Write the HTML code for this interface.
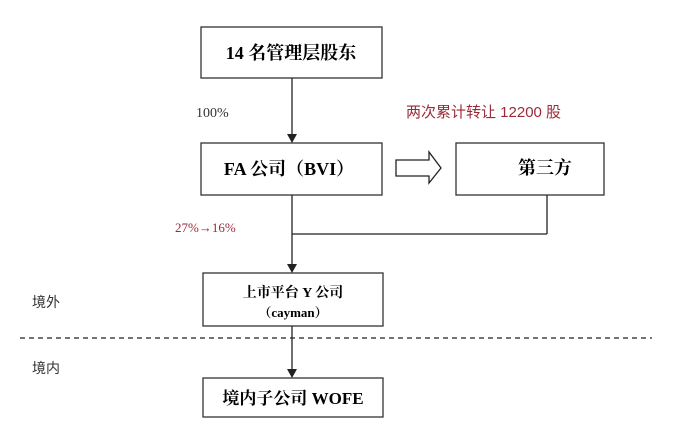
<!DOCTYPE html>
<html><head><meta charset="utf-8"><style>
body{margin:0;background:#fff;}
svg text{font-family:"Liberation Serif","Noto Serif CJK SC",serif;}
</style></head><body>
<svg width="690" height="443" viewBox="0 0 690 443" xmlns="http://www.w3.org/2000/svg">
<defs><marker id="a" markerWidth="8" markerHeight="8" refX="4" refY="7" orient="auto" markerUnits="userSpaceOnUse">
<path d="M0,0 L8,0 L4,8 z" fill="#222" transform="rotate(-90 4 4)"/></marker></defs>
<g stroke="#333" stroke-width="1.3" fill="#fff">
<rect x="201" y="27" width="181" height="51"/>
<rect x="201" y="143" width="181" height="52"/>
<rect x="456" y="143" width="148" height="52"/>
<rect x="203" y="273" width="180" height="53"/>
<rect x="203" y="378" width="180" height="39"/>
</g>
<g stroke="#222" stroke-width="1.3" fill="none">
<line x1="292" y1="78" x2="292" y2="135"/>
<line x1="292" y1="195" x2="292" y2="265"/>
<line x1="547" y1="195" x2="547" y2="234"/>
<line x1="547" y1="234" x2="292" y2="234"/>
<line x1="292" y1="326" x2="292" y2="370"/>
<path d="M396,160 L429,160 L429,152 L441,168 L429,183 L429,176 L396,176 Z"/>
<line x1="20" y1="338" x2="652" y2="338" stroke-dasharray="5,4"/>
</g>
<g fill="#222">
<path d="M287,134 L297,134 L292,143 Z"/>
<path d="M287,264 L297,264 L292,273 Z"/>
<path d="M287,369 L297,369 L292,378 Z"/>
</g>
<text x="291" y="59" font-size="18" font-weight="bold" text-anchor="middle">14 名管理层股东</text>
<text x="289" y="175" font-size="18" font-weight="bold" text-anchor="middle">FA 公司（BVI）</text>
<text x="545" y="174" font-size="18" font-weight="bold" text-anchor="middle">第三方</text>
<text x="293" y="297" font-size="14" font-weight="bold" text-anchor="middle">上市平台 Y 公司</text>
<text x="293" y="317" font-size="13" font-weight="bold" text-anchor="middle">（cayman）</text>
<text x="293" y="404" font-size="17" font-weight="bold" text-anchor="middle">境内子公司 WOFE</text>
<text x="196" y="117" font-size="14" fill="#333" font-family="Liberation Sans,sans-serif">100%</text>
<text x="406" y="117" font-size="15" fill="#9a2a3a" style="font-family:'Liberation Sans','Noto Sans CJK SC',sans-serif">两次累计转让 12200 股</text>
<text x="175" y="232" font-size="13" fill="#9a2a3a">27%→16%</text>
<text x="32" y="307" font-size="14" fill="#333" style="font-family:'Liberation Sans','Noto Sans CJK SC',sans-serif">境外</text>
<text x="32" y="373" font-size="14" fill="#333" style="font-family:'Liberation Sans','Noto Sans CJK SC',sans-serif">境内</text>
</svg>
</body></html>
